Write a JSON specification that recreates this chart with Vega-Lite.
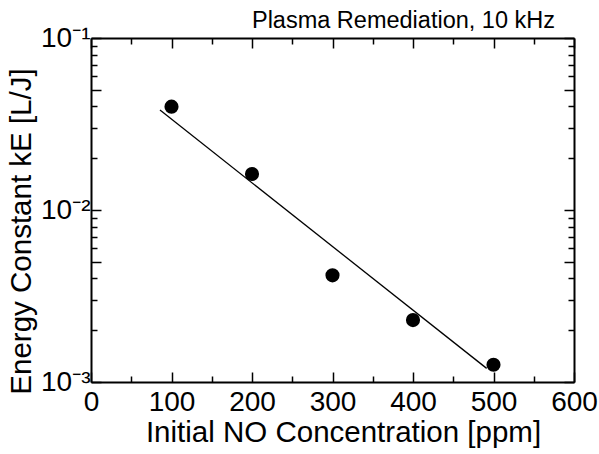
{
  "$schema": "https://vega.github.io/schema/vega-lite/v6.json",
  "width": 483,
  "height": 344,
  "autosize": {"type": "none"},
  "padding": {"left": 91, "top": 38, "right": 25, "bottom": 72},
  "background": "white",
  "config": {
    "view": {"stroke": null},
    "axis": {"grid": false, "labelFont": "Liberation Sans", "titleFont": "Liberation Sans", "labelColor": "black", "titleColor": "black", "tickColor": "black", "domainColor": "black", "titleFontWeight": "normal"}
  },
  "datasets": {
    "pts": [
      {"c": 100, "k": 0.0399},
      {"c": 200, "k": 0.0162},
      {"c": 300, "k": 0.00417},
      {"c": 400, "k": 0.00229},
      {"c": 500, "k": 0.00126}
    ],
    "fit": [
      {"c": 85.7, "k": 0.0381},
      {"c": 491.5, "k": 0.0012}
    ],
    "note": [
      {"c": 600, "k": 0.1, "label": "Plasma Remediation, 10 kHz"}
    ]
  },
  "resolve": {"axis": {"x": "independent", "y": "independent"}},
  "layer": [
    {
      "data": {"name": "pts"},
      "mark": {"type": "point", "filled": true, "color": "black", "opacity": 1, "size": 200},
      "encoding": {
        "x": {"field": "c", "type": "quantitative", "scale": {"domain": [0, 600], "nice": false, "zero": false},
          "axis": {"orient": "bottom", "values": [0, 100, 200, 300, 400, 500, 600], "tickSize": -10, "tickWidth": 1.5, "labelPadding": 16, "labelFontSize": 28, "labelFlush": false, "labelOverlap": false, "domainWidth": 2, "title": "Initial NO Concentration [ppm]", "titleFontSize": 29.5, "titlePadding": 2, "titleX": 252}},
        "y": {"field": "k", "type": "quantitative", "scale": {"type": "log", "domain": [0.001, 0.1], "nice": false},
          "axis": {"orient": "left", "values": [0.001, 0.005, 0.01, 0.05, 0.1], "tickSize": -10, "tickWidth": 1.5, "labelPadding": 11, "labelFontSize": 28, "labelFlush": false, "labelOverlap": false, "labelExpr": "datum.value == 0.1 ? '10⁻¹' : datum.value == 0.01 ? '10⁻²' : datum.value == 0.001 ? '10⁻³' : ''", "domainWidth": 2, "title": "Energy Constant kE [L/J]", "titleFontSize": 29.5, "titlePadding": 4, "titleY": 193}}
      }
    },
    {
      "data": {"name": "fit"},
      "mark": {"type": "line", "color": "black", "strokeWidth": 1.3},
      "encoding": {
        "x": {"field": "c", "type": "quantitative",
          "axis": {"orient": "top", "values": [0, 100, 200, 300, 400, 500, 600], "tickSize": -10, "tickWidth": 1.5, "labels": false, "domainWidth": 2, "title": null}},
        "y": {"field": "k", "type": "quantitative",
          "axis": {"orient": "right", "values": [0.001, 0.005, 0.01, 0.05, 0.1], "tickSize": -10, "tickWidth": 1.5, "labels": false, "domainWidth": 2, "title": null}}
      }
    },
    {
      "data": {"name": "pts"},
      "mark": {"type": "point", "opacity": 0},
      "encoding": {
        "x": {"field": "c", "type": "quantitative",
          "axis": {"orient": "bottom", "values": [50, 150, 250, 350, 450, 550], "tickSize": -6, "tickWidth": 1.5, "labels": false, "domain": false, "title": null}},
        "y": {"field": "k", "type": "quantitative",
          "axis": {"orient": "left", "values": [0.002, 0.003, 0.004, 0.006, 0.007, 0.008, 0.009, 0.02, 0.03, 0.04, 0.06, 0.07, 0.08, 0.09], "tickSize": -6, "tickWidth": 1.5, "labels": false, "domain": false, "title": null}}
      }
    },
    {
      "data": {"name": "pts"},
      "mark": {"type": "point", "opacity": 0},
      "encoding": {
        "x": {"field": "c", "type": "quantitative",
          "axis": {"orient": "top", "values": [50, 150, 250, 350, 450, 550], "tickSize": -6, "tickWidth": 1.5, "labels": false, "domain": false, "title": null}},
        "y": {"field": "k", "type": "quantitative",
          "axis": {"orient": "right", "values": [0.002, 0.003, 0.004, 0.006, 0.007, 0.008, 0.009, 0.02, 0.03, 0.04, 0.06, 0.07, 0.08, 0.09], "tickSize": -6, "tickWidth": 1.5, "labels": false, "domain": false, "title": null}}
      }
    },
    {
      "data": {"name": "note"},
      "mark": {"type": "text", "align": "right", "baseline": "alphabetic", "dx": -19, "dy": -10, "font": "Liberation Sans", "fontSize": 23.5, "color": "black", "clip": false},
      "encoding": {
        "x": {"field": "c", "type": "quantitative", "axis": null},
        "y": {"field": "k", "type": "quantitative", "axis": null},
        "text": {"field": "label"}
      }
    }
  ]
}
